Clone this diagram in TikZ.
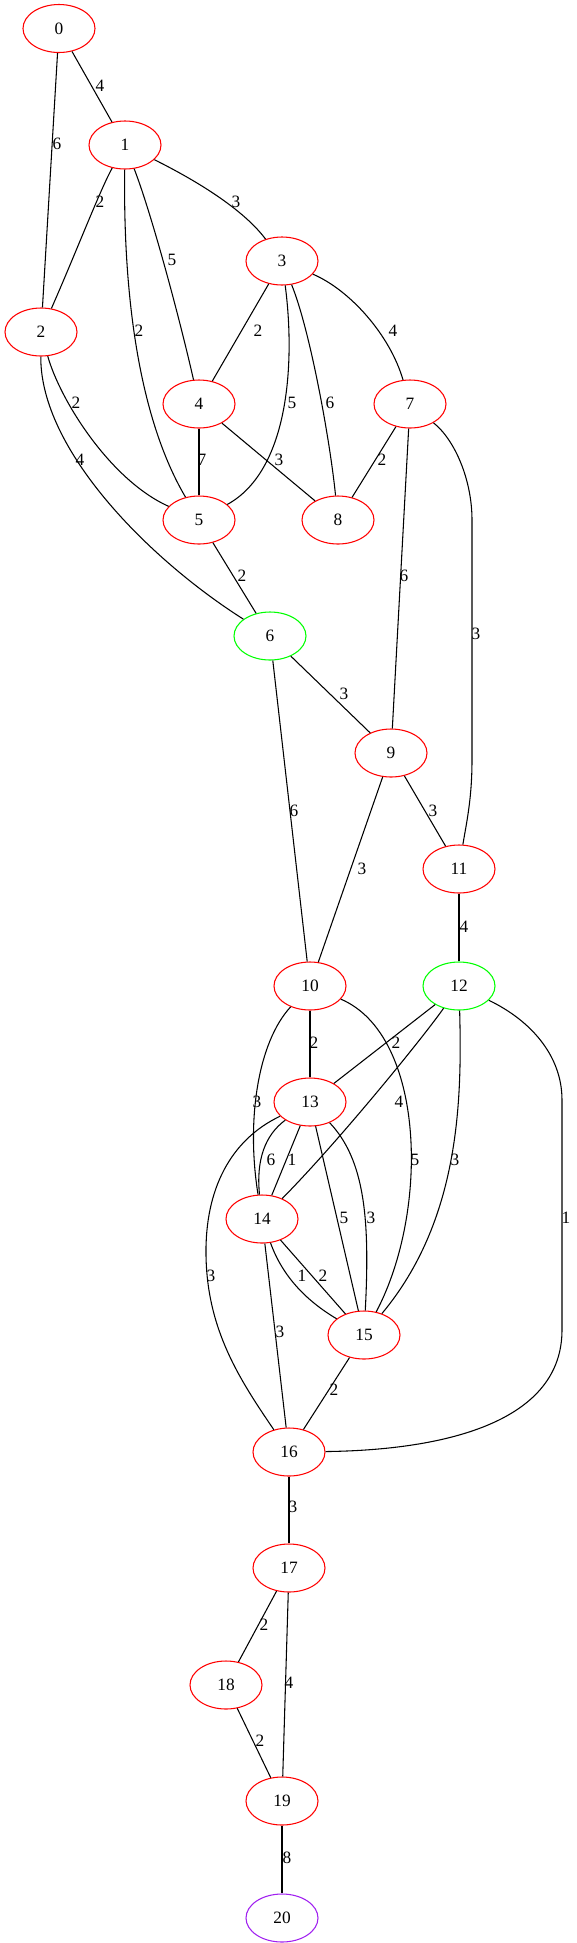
\documentclass[tikz,border=0pt]{standalone}
\usepackage{fontspec}
\setmainfont{Liberation Serif}
\usetikzlibrary{shapes.geometric}
\definecolor{gvgreen}{RGB}{0,255,0}
\definecolor{gvpurple}{RGB}{160,32,240}

\begin{document}
\begin{tikzpicture}[x=0.75pt,y=-0.75pt,line width=0.8pt,
    vtx/.style={ellipse,draw=red,minimum width=54pt,minimum height=36pt,inner sep=0pt,font=\fontsize{13}{15}\selectfont},
    wt/.style={inner sep=0pt,font=\fontsize{13}{15}\selectfont}]
  \useasboundingbox (0,0) rectangle (577,1943);

  % vertices
  \node[vtx] (v0) at (59,28.5) {0};
  \node[vtx] (v1) at (125,145) {1};
  \node[vtx] (v2) at (41,332) {2};
  \node[vtx] (v3) at (282,261) {3};
  \node[vtx] (v4) at (199,404) {4};
  \node[vtx] (v5) at (199,520) {5};
  \node[vtx,draw=gvgreen] (v6) at (270,636) {6};
  \node[vtx] (v7) at (410,404) {7};
  \node[vtx] (v8) at (338,520) {8};
  \node[vtx] (v9) at (391,753) {9};
  \node[vtx] (v10) at (310,986) {10};
  \node[vtx] (v11) at (459,869) {11};
  \node[vtx,draw=gvgreen] (v12) at (459,986) {12};
  \node[vtx] (v13) at (310,1102) {13};
  \node[vtx] (v14) at (262,1219) {14};
  \node[vtx] (v15) at (364,1335) {15};
  \node[vtx] (v16) at (289,1452) {16};
  \node[vtx] (v17) at (289,1568) {17};
  \node[vtx] (v18) at (226,1685) {18};
  \node[vtx] (v19) at (282,1801) {19};
  \node[vtx,draw=gvpurple] (v20) at (282,1918) {20};

  % weighted edges
  \draw (v0) -- (v1) node[wt] at (100,86) {4};
  \draw (v0) -- (v2) node[wt] at (57,144) {6};
  \draw (v1) .. controls (100,190) and (75,255) .. (v2) node[wt] at (100,202) {2};
  \draw (v1) .. controls (185,175) and (240,205) .. (v3) node[wt] at (236,202) {3};
  \draw (v1) .. controls (152,215) and (180,320) .. (v4) node[wt] at (172,260) {5};
  \draw (v1) .. controls (123,300) and (140,420) .. (v5) node[wt] at (139,331) {2};
  \draw (v3) -- (v4) node[wt] at (258,331) {2};
  \draw (v3) .. controls (350,290) and (390,335) .. (v7) node[wt] at (393,331) {4};
  \draw (v2) .. controls (60,400) and (110,480) .. (v5) node[wt] at (76,403) {2};
  \draw (v3) .. controls (295,360) and (290,470) .. (v5) node[wt] at (292,403) {5};
  \draw (v3) .. controls (310,330) and (330,440) .. (v8) node[wt] at (330,403) {6};
  \draw (v2) .. controls (40,450) and (150,560) .. (v6) node[wt] at (80,460) {4};
  \draw (v4) -- (v5) node[wt] at (202,460) {7};
  \draw (v4) -- (v8) node[wt] at (279,460) {3};
  \draw (v7) -- (v8) node[wt] at (382,460) {2};
  \draw (v5) -- (v6) node[wt] at (242,576) {2};
  \draw (v7) -- (v9) node[wt] at (404,576) {6};
  \draw (v7) .. controls (455,440) and (472,480) .. (472,520) -- (472,760)
    .. controls (472,800) and (466,825) .. (v11) node[wt] at (476,634) {3};
  \draw (v6) -- (v9) node[wt] at (344,694) {3};
  \draw (v6) -- (v10) node[wt] at (294,811) {6};
  \draw (v9) -- (v11) node[wt] at (433,811) {3};
  \draw (v9) -- (v10) node[wt] at (362,869) {3};
  \draw (v11) -- (v12) node[wt] at (464,927) {4};
  \draw (v10) -- (v13) node[wt] at (314,1043) {2};
  \draw (v12) -- (v13) node[wt] at (396,1043) {2};
  \draw (v10) .. controls (258,1042) and (246,1120) .. (v14) node[wt] at (257,1102) {3};
  \draw (v12) .. controls (425,1035) and (340,1140) .. (v14) node[wt] at (399,1102) {4};
  \draw (v13) .. controls (265,1135) and (256,1160) .. (v14) node[wt] at (271,1160) {6};
  \draw (v13) -- (v14) node[wt] at (292,1160) {1};
  \draw (v10) .. controls (425,1035) and (430,1210) .. (v15) node[wt] at (415,1160) {5};
  \draw (v12) .. controls (462,1100) and (460,1220) .. (v15) node[wt] at (455,1160) {3};
  \draw (v13) -- (v15) node[wt] at (344,1218) {5};
  \draw (v13) .. controls (365,1160) and (370,1220) .. (v15) node[wt] at (371,1218) {3};
  \draw (v12) .. controls (530,1020) and (562,1055) .. (562,1100) -- (562,1330)
    .. controls (562,1420) and (450,1450) .. (v16) node[wt] at (566,1218) {1};
  \draw (v13) .. controls (230,1140) and (205,1190) .. (206,1255)
    .. controls (207,1330) and (240,1380) .. (v16) node[wt] at (211,1276) {3};
  \draw (v14) .. controls (282,1275) and (305,1300) .. (v15) node[wt] at (302,1276) {1};
  \draw (v14) -- (v15) node[wt] at (323,1276) {2};
  \draw (v14) -- (v16) node[wt] at (280,1332) {3};
  \draw (v15) -- (v16) node[wt] at (334,1390) {2};
  \draw (v16) -- (v17) node[wt] at (293,1507) {3};
  \draw (v17) -- (v18) node[wt] at (264,1625) {2};
  \draw (v17) -- (v19) node[wt] at (289,1683) {4};
  \draw (v18) -- (v19) node[wt] at (260,1741) {2};
  \draw (v19) -- (v20) node[wt] at (287,1858) {8};
\end{tikzpicture}
\end{document}
